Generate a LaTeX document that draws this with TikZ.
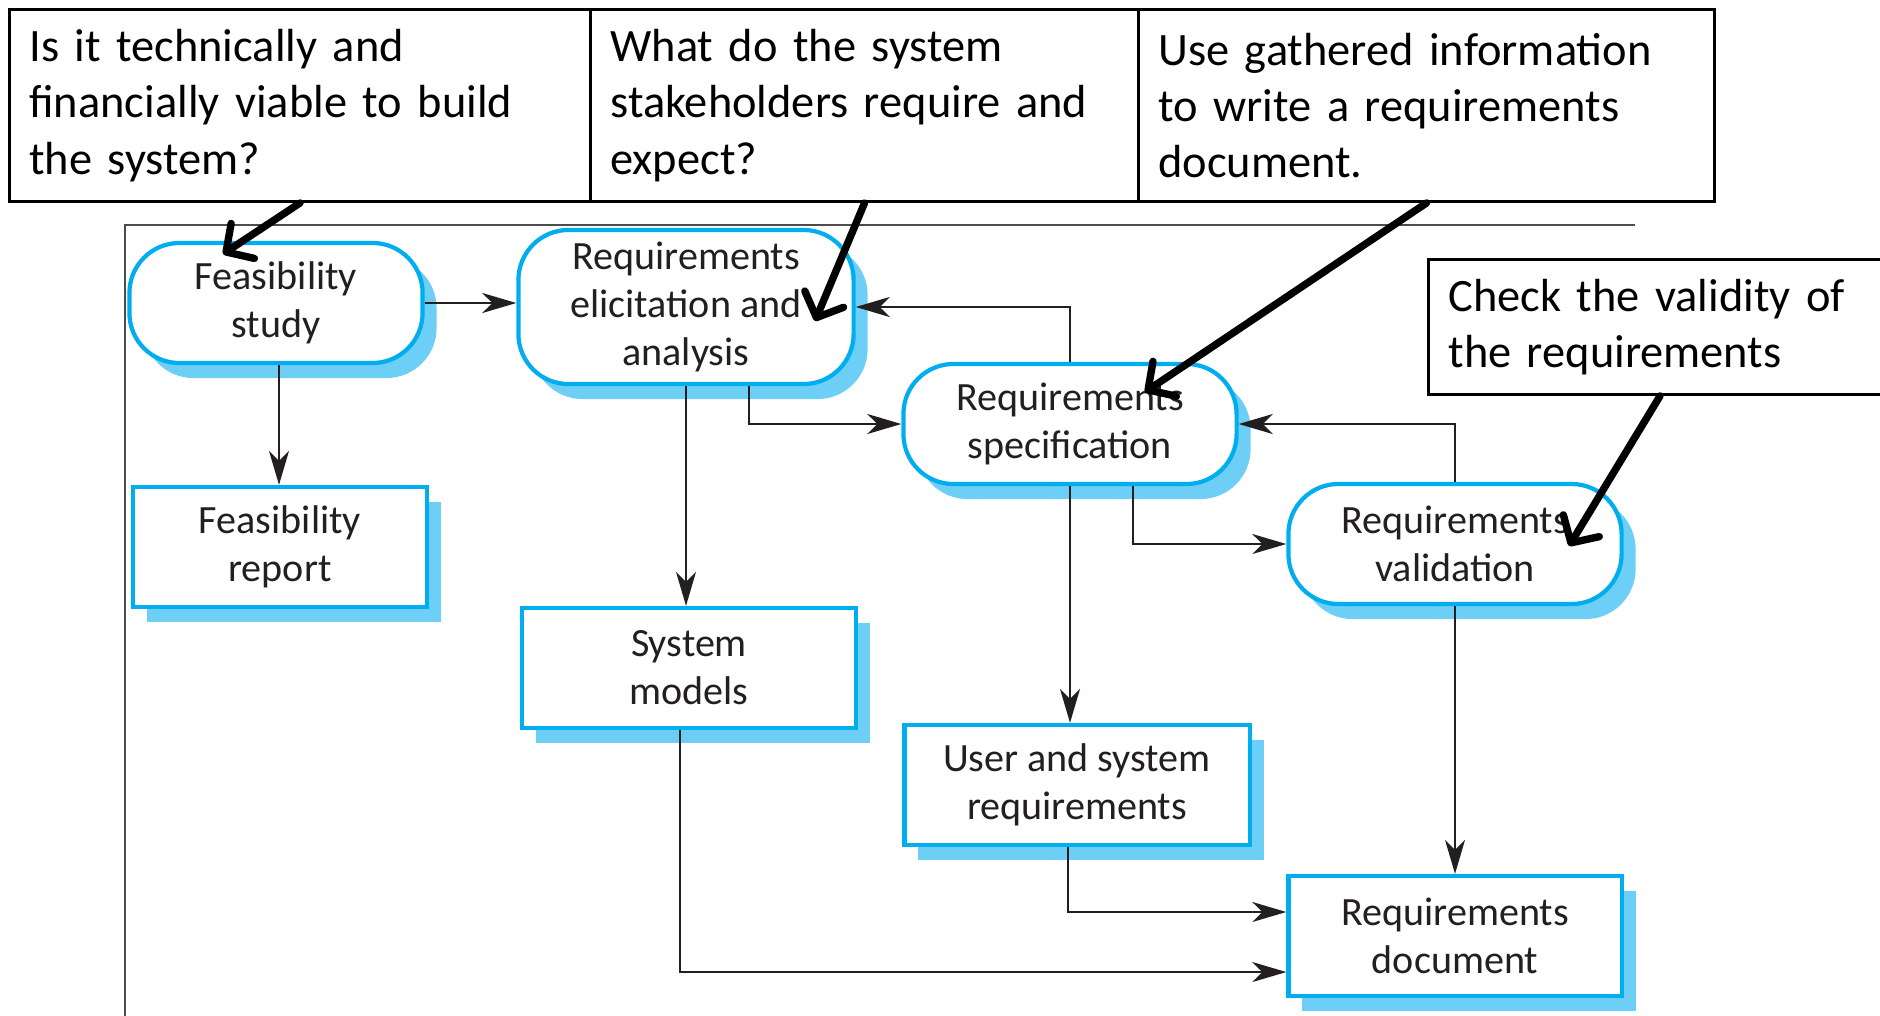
\documentclass[tikz,border=0pt]{standalone}
\usepackage{fontspec}
\setmainfont{Carlito}
\usetikzlibrary{arrows.meta,shadows}

\definecolor{reqblue}{HTML}{00AEEF}
\definecolor{reqshade}{HTML}{6DCFF6}
\definecolor{ink}{HTML}{231F20}

\tikzset{
	stage/.style={draw=reqblue, line width=1.2pt, fill=white, rounded corners=0.5cm,
		minimum width=3.33cm, minimum height=1.2cm, inner sep=0pt, align=center,
		text=ink, font=\fontsize{11.4}{13.6}\selectfont,
		drop shadow={shadow xshift=0.14cm, shadow yshift=-0.15cm, fill=reqshade, opacity=1}},
	product/.style={stage, sharp corners},
	flow/.style={draw=ink, line width=0.6pt, -{Stealth[length=3.4mm, width=2mm, inset=1mm]}},
	note/.style={draw=black, line width=0.8pt, anchor=north west, align=left,
		inner xsep=0.2cm, inner ysep=0pt, font=\fontsize{13.2}{16}\selectfont},
	pointer/.style={draw=black, line width=2.1pt, line cap=round,
		-{Straight Barb[length=2mm, width=4.2mm, round]}}
}

\begin{document}
\begin{tikzpicture}[x=0.01cm, y=-0.01cm]
	\useasboundingbox (0,0) rectangle (1880,1015);

	% frame of the process figure
	\draw[black!70, line width=0.6pt] (125,1020) |- (1635,225);

	% activities
	\node (fs)   at (276,303)  [stage, minimum width=2.93cm] {Feasibility\\study};
	\node (elic) at (686,307)  [stage, minimum width=3.35cm, minimum height=1.54cm] {Requirements\\elicitation and\\analysis};
	\node (spec) at (1070,424) [stage] {Requirements\\specification};
	\node (val)  at (1455,544) [stage] {Requirements\\validation};

	% deliverables
	\node (fr)  at (280,547)  [product, minimum width=2.94cm] {Feasibility\\report};
	\node (sys) at (689,668)  [product, minimum width=3.34cm] {System\\models};
	\node (usr) at (1077,785) [product, minimum width=3.45cm] {User and system\\requirements};
	\node (doc) at (1455,936) [product] {Requirements\\document};

	\draw[flow] (fs.east) -- (fs.east -| elic.west);
	\draw[flow] ([xshift=0.03cm]fs.south) -- ([xshift=0.03cm]fs.south |- fr.north);
	\draw[flow] (elic.south) -- (elic.south |- sys.north);
	\draw[flow] ([xshift=0.63cm]elic.south) |- (spec.west);
	\draw[flow] (spec.north) |- (elic.east);
	\draw[flow] (spec.south) -- (spec.south |- usr.north);
	\draw[flow] ([xshift=0.63cm]spec.south) |- (val.west);
	\draw[flow] (val.north) |- (spec.east);
	\draw[flow] (val.south) -- (doc.north);
	\draw[flow] ([xshift=-0.09cm]usr.south) |- ([yshift=0.24cm]doc.west);
	\draw[flow] ([xshift=-0.09cm]sys.south) |- ([yshift=-0.36cm]doc.west);

	% questions on top
	\node (q1) at (8,8)    [note, minimum width=5.81cm, minimum height=1.92cm, text width=5.41cm]
		{Is it technically and\\financially viable to build\\the system?};
	\node (q2) at (589,8)  [note, minimum width=5.48cm, minimum height=1.92cm, text width=5.08cm]
		{What do the system\\stakeholders require and\\expect?};
	\node (q3) at (1137,8) [note, minimum width=5.76cm, minimum height=1.92cm, text width=5.36cm]
		{Use gathered information\\to write a requirements\\document.};
	\node (chk) at (1427,258) [note, minimum width=4.63cm, minimum height=1.35cm, text width=4.23cm]
		{Check the validity of\\the requirements};

	\coordinate (tfs)   at (223,254);
	\coordinate (telic) at (815,321);
	\coordinate (tspec) at (1145,392);
	\coordinate (tval)  at (1569,546);
	\draw[pointer] (q1.south) -- (tfs);
	\draw[pointer] (q2.south) -- (telic);
	\draw[pointer] (q3.south) -- (tspec);
	\draw[pointer] (chk.south) -- (tval);
\end{tikzpicture}
\end{document}
